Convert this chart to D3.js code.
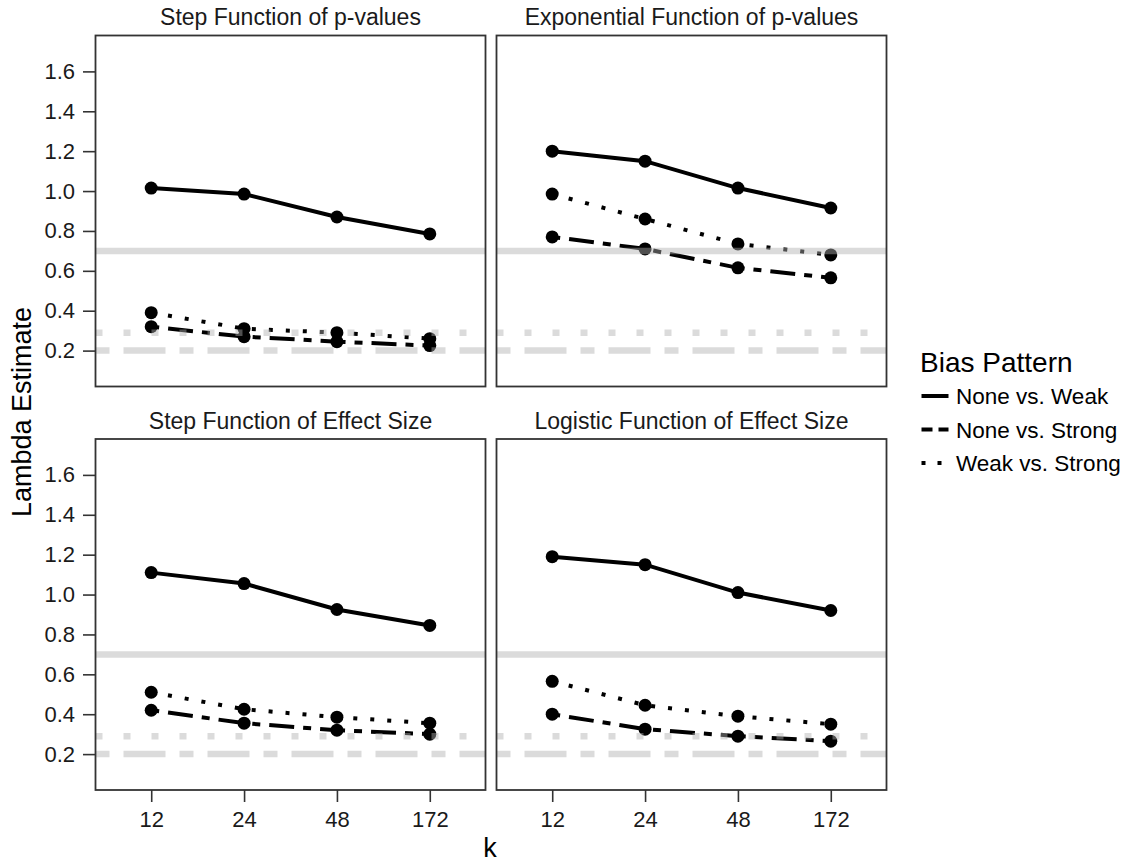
<!DOCTYPE html>
<html>
<head>
<meta charset="utf-8">
<script src="https://cdn.jsdelivr.net/npm/d3@7"></script>
<style>
    body { margin: 0; background: #fff; }
    svg { display: block; font-family: "Liberation Sans", Arial, sans-serif; }
    .tick text { fill: #1a1a1a; }
</style>
</head>
<body>
<svg id="chart" width="1132" height="863"></svg>
<script>
// values
const kLevels = ["12", "24", "48", "172"];
const panelTitles = ["Step Function of p-values", "Exponential Function of p-values",
    "Step Function of Effect Size", "Logistic Function of Effect Size"];
const seriesNames = ["None vs. Weak", "None vs. Strong", "Weak vs. Strong"];

// one row per panel, one value per k
const noneVsWeak = [
    [1.015, 0.985, 0.87, 0.785],
    [1.20, 1.15, 1.015, 0.915],
    [1.11, 1.055, 0.925, 0.845],
    [1.19, 1.15, 1.01, 0.92]
];
const noneVsStrong = [
    [0.32, 0.27, 0.245, 0.225],
    [0.77, 0.71, 0.615, 0.565],
    [0.42, 0.355, 0.32, 0.30],
    [0.40, 0.325, 0.29, 0.265]
];
const weakVsStrong = [
    [0.39, 0.31, 0.29, 0.26],
    [0.985, 0.86, 0.735, 0.68],
    [0.51, 0.425, 0.385, 0.355],
    [0.565, 0.445, 0.39, 0.35]
];
const refValues = [0.7, 0.29, 0.2];
const yTicks = [0.2, 0.4, 0.6, 0.8, 1.0, 1.2, 1.4, 1.6];
const yDomain = [0.02, 1.78];

const seriesValues = [noneVsWeak, noneVsStrong, weakVsStrong];
const seriesDash = [null, "8,9,25,9", "4,13"];
const refDash = [null, "7,21", "14,14,42,14"];
const legendDash = [null, "11,6", "4,12"];

const svg = d3.select("#chart");
const panelW = 390, panelH = 351;
const colX = [95.5, 496.5], rowY = [35.5, 439];

const x = d3.scalePoint().domain(kLevels).range([0, panelW]).padding(0.6);
const y = d3.scaleLinear().domain(yDomain).range([panelH, 0]);

const line = d3.line()
    .x(function (d) { return x(d.k); })
    .y(function (d) { return y(d.v); });

panelTitles.forEach(function (title, p) {
    const col = p % 2, row = Math.floor(p / 2);
    const g = svg.append("g")
        .attr("transform", "translate(" + colX[col] + "," + rowY[row] + ")");

    g.append("text")
        .attr("x", panelW / 2)
        .attr("y", -10.5)
        .attr("text-anchor", "middle")
        .attr("font-size", 23)
        .attr("fill", "#1a1a1a")
        .text(title);

    // data lines and points
    seriesValues.forEach(function (vals, s) {
        const data = kLevels.map(function (k, i) { return { k: k, v: vals[p][i] }; });
        g.append("path")
            .datum(data)
            .attr("d", line)
            .attr("fill", "none")
            .attr("stroke", "#000")
            .attr("stroke-width", 4)
            .attr("stroke-dasharray", seriesDash[s]);
        g.selectAll(".pt" + s)
            .data(data)
            .enter().append("circle")
            .attr("cx", function (d) { return x(d.k); })
            .attr("cy", function (d) { return y(d.v); })
            .attr("r", 6.5)
            .attr("fill", "#000");
    });

    // grey reference lines sit on top of the data
    refValues.forEach(function (v, i) {
        g.append("line")
            .attr("x1", 0).attr("x2", panelW)
            .attr("y1", y(v)).attr("y2", y(v))
            .attr("stroke", "#b0b0b0")
            .attr("stroke-opacity", 0.45)
            .attr("stroke-width", 6.5)
            .attr("stroke-dasharray", refDash[i]);
    });

    g.append("rect")
        .attr("width", panelW).attr("height", panelH)
        .attr("fill", "none")
        .attr("stroke", "#333")
        .attr("stroke-width", 1.8);

    if (col === 0) {
        const ya = g.append("g")
            .call(d3.axisLeft(y).tickValues(yTicks).tickFormat(d3.format(".1f"))
                .tickSize(12.5).tickSizeOuter(0).tickPadding(8));
        ya.select(".domain").remove();
        ya.selectAll(".tick line").attr("stroke", "#333").attr("stroke-width", 1.6);
        ya.selectAll("text").attr("font-size", 22).attr("font-family", null);
    }
    if (row === 1) {
        const xa = g.append("g")
            .attr("transform", "translate(0," + panelH + ")")
            .call(d3.axisBottom(x).tickSize(12).tickSizeOuter(0).tickPadding(9.5));
        xa.select(".domain").remove();
        xa.selectAll(".tick line").attr("stroke", "#333").attr("stroke-width", 1.6);
        xa.selectAll("text").attr("font-size", 22).attr("font-family", null);
    }
});

// axis titles
svg.append("text")
    .attr("transform", "translate(31,412) rotate(-90)")
    .attr("text-anchor", "middle")
    .attr("font-size", 27)
    .text("Lambda Estimate");

svg.append("text")
    .attr("x", 490)
    .attr("y", 857)
    .attr("text-anchor", "middle")
    .attr("font-size", 27)
    .text("k");

// legend
const legend = svg.append("g").attr("transform", "translate(920,0)");
legend.append("text")
    .attr("x", 0).attr("y", 372)
    .attr("font-size", 28)
    .text("Bias Pattern");

seriesNames.forEach(function (name, s) {
    const cy = 396 + s * 33.5;
    legend.append("line")
        .attr("x1", 1.5).attr("x2", 28.5)
        .attr("y1", cy).attr("y2", cy)
        .attr("stroke", "#000")
        .attr("stroke-width", 4)
        .attr("stroke-dasharray", legendDash[s]);
    legend.append("text")
        .attr("x", 36).attr("y", cy + 8)
        .attr("font-size", 22.5)
        .text(name);
});
</script>
</body>
</html>
